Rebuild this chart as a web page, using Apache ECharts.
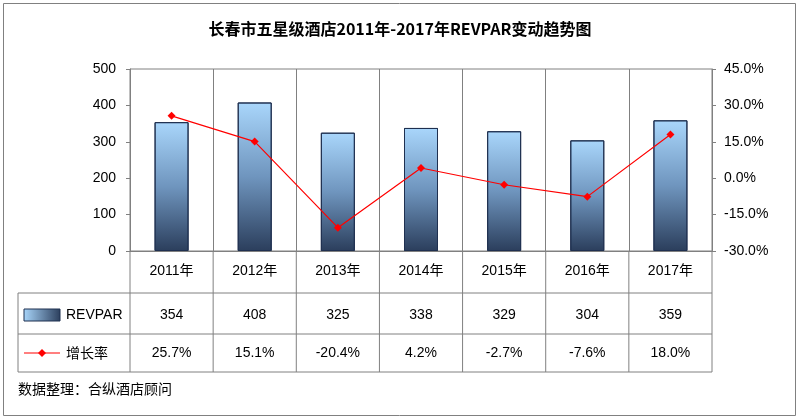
<!DOCTYPE html>
<html><head><meta charset="utf-8">
<script src="https://cdn.jsdelivr.net/npm/echarts@6/dist/echarts.min.js"></script>
<style>html,body{margin:0;padding:0;background:#fff}#c{width:800px;height:420px}</style>
</head><body><div id="c"></div>
<script>
const categories=['2011年','2012年','2013年','2014年','2015年','2016年','2017年'];
const revpar=[354,408,325,338,329,304,359];
const growth=[25.7,15.1,-20.4,4.2,-2.7,-7.6,18.0];
const leftTicks=[0,100,200,300,400,500];
const rightTicks=[-30,-15,0,15,30,45];
const F='"Liberation Sans","Noto Sans CJK SC",sans-serif';
const chart=echarts.init(document.getElementById('c'));
const L=130,R=712,T=69,B=251;
chart.setOption({
 animation:false,
 title:{text:'长春市五星级酒店2011年-2017年REVPAR变动趋势图',left:'center',top:16,
  textStyle:{fontFamily:'"Noto Sans CJK SC"',fontSize:16,fontWeight:'bold',color:'#000'}},
 grid:{left:L,right:800-R,top:T,bottom:420-B,show:true,borderColor:'#808080',borderWidth:1},
 xAxis:{type:'category',data:categories,axisTick:{show:false},axisLine:{lineStyle:{color:'#808080'}},
  splitLine:{show:true,lineStyle:{color:'#808080'}},
  axisLabel:{margin:13,fontFamily:F,fontSize:14,color:'#000'}},
 yAxis:[{type:'value',min:0,max:500,interval:100,splitLine:{show:false},
   axisLine:{show:true,lineStyle:{color:'#808080'}},axisTick:{show:true,inside:false,length:4},
   axisLabel:{fontFamily:F,fontSize:14,color:'#000',margin:14}},
  {type:'value',min:-30,max:45,interval:15,splitLine:{show:false},
   axisLine:{show:true,lineStyle:{color:'#808080'}},axisTick:{show:true,length:4},
   axisLabel:{fontFamily:F,fontSize:14,color:'#000',margin:12,formatter:v=>v.toFixed(1)+'%'}}],
 series:[{type:'bar',data:revpar,barWidth:34,
   itemStyle:{borderColor:'#1f3050',borderWidth:1,color:new echarts.graphic.LinearGradient(0,0,0,1,[{offset:0,color:'#a9d6fb'},{offset:0.5,color:'#6f95be'},{offset:1,color:'#2b3e5c'}])}},
  {type:'line',yAxisIndex:1,data:growth,symbol:'diamond',symbolSize:8,
   lineStyle:{color:'#ff0000',width:1.2},itemStyle:{color:'#ff0000'}}]
});
const g=[];
const gray={stroke:'#808080',lineWidth:1};
[293,334,372].forEach(y=>g.push({type:'line',shape:{x1:18,y1:y,x2:R,y2:y},style:gray}));
g.push({type:'line',shape:{x1:18,y1:293,x2:18,y2:372},style:gray});
const cw=(R-L)/categories.length;
for(let i=0;i<=categories.length;i++){const x=L+i*cw;g.push({type:'line',shape:{x1:x,y1:B,x2:x,y2:372},style:gray});}
categories.forEach((c,i)=>{
 const x=chart.convertToPixel({xAxisIndex:0},i);
 g.push({type:'text',x:x,y:315,style:{text:String(revpar[i]),font:'14px '+F,fill:'#000',align:'center',verticalAlign:'middle'}});
 g.push({type:'text',x:x,y:353,style:{text:growth[i].toFixed(1)+'%',font:'14px '+F,fill:'#000',align:'center',verticalAlign:'middle'}});
});
g.push({type:'rect',shape:{x:24,y:309,width:36,height:12},style:{stroke:'#1f3050',lineWidth:1,fill:new echarts.graphic.LinearGradient(0,0,1,0,[{offset:0,color:'#a9d6fb'},{offset:1,color:'#2b3e5c'}])}});
g.push({type:'text',x:66,y:315,style:{text:'REVPAR',font:'14px '+F,fill:'#000',verticalAlign:'middle'}});
g.push({type:'line',shape:{x1:24,y1:353,x2:60,y2:353},style:{stroke:'#ff0000',lineWidth:1.2}});
g.push({type:'polygon',shape:{points:[[42,349],[46,353],[42,357],[38,353]]},style:{fill:'#ff0000'}});
g.push({type:'text',x:66,y:353,style:{text:'增长率',font:'14px "Noto Sans CJK SC"',fill:'#000',verticalAlign:'middle'}});
g.push({type:'text',x:18,y:389,style:{text:'数据整理：合纵酒店顾问',font:'14px "Noto Sans CJK SC"',fill:'#000',verticalAlign:'middle'}});
g.push({type:'rect',shape:{x:3.5,y:3.5,width:792,height:412},style:{stroke:'#808080',lineWidth:1,fill:'none'},z:-1});
chart.setOption({graphic:g});
</script></body></html>
